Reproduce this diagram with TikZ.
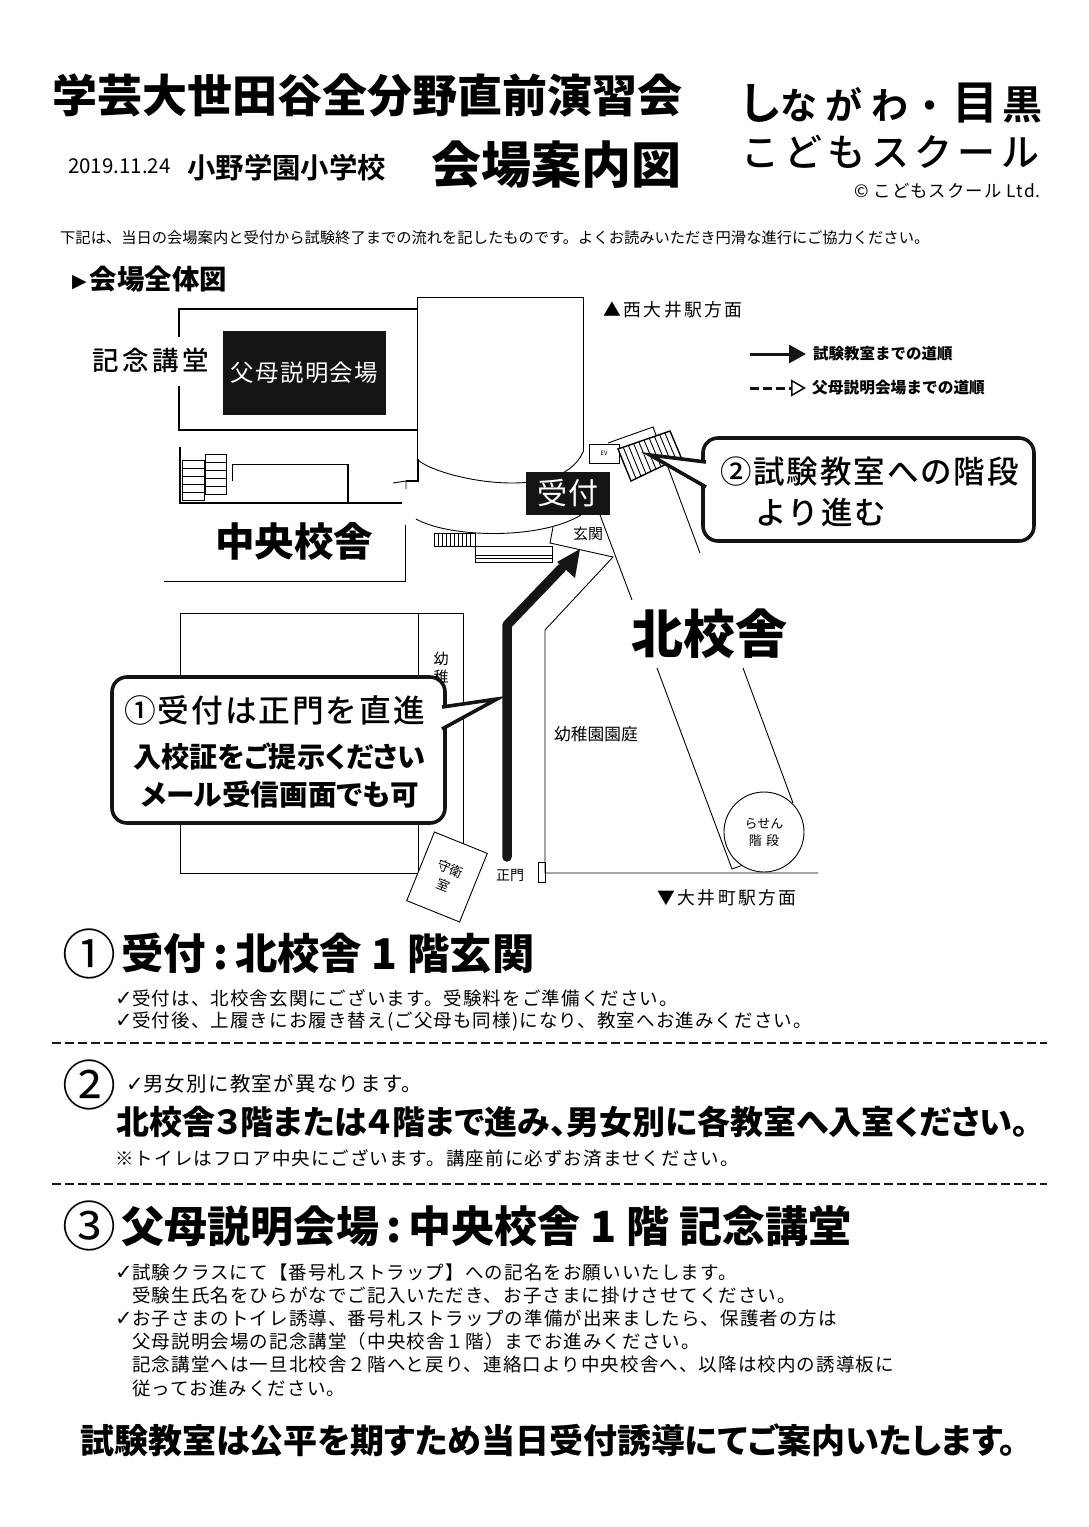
\documentclass[tikz,border=0pt]{standalone}
\usepackage{fontspec}
\usetikzlibrary{arrows.meta, calc}
\setmainfont{Noto Sans CJK JP}
\newfontfamily\jpreg{Noto Sans CJK JP}
\newfontfamily\jpbold{Noto Sans CJK JP Bold}
\newfontfamily\jpblack{Noto Sans CJK JP Black}
\newfontfamily\jptight[RawFeature={+palt}]{Noto Sans CJK JP Black}
\newfontfamily\jpwide[LetterSpace=6]{Noto Sans CJK JP}
\newfontfamily\jpwider[LetterSpace=14]{Noto Sans CJK JP}
\newfontfamily\jpmed[LetterSpace=6]{Noto Sans CJK JP Medium}
\newfontfamily\jpmedr[LetterSpace=14]{Noto Sans CJK JP Medium}
\newfontfamily\symfont{DejaVu Sans}
\newcommand{\fs}[1]{\fontsize{#1}{#1}\selectfont}
\newcommand{\chk}{\makebox[17pt][l]{\symfont\fs{21}✓}}
\newcommand{\ind}{\hspace*{17pt}}
\tikzstyle{txt}=[inner sep=0pt, anchor=west]
\tikzstyle{bodyline}=[txt, font=\jpwide\fs{18.5}]
\tikzstyle{heading}=[txt, font=\jpblack\fs{43}]
\tikzstyle{numeral}=[inner sep=0pt, font=\jpreg\fs{54}]
\tikzstyle{plain}=[black, line width=.9pt]
\tikzstyle{wall}=[black, line width=2.4pt]
\tikzstyle{darkbox}=[fill=black!92, text=white, inner sep=0pt]
\tikzstyle{callbox}=[draw=black!92, line width=3.6pt, rounded corners=15pt, fill=white, inner sep=0pt]
\tikzstyle{callptr}=[draw=black!92, line width=3.6pt, fill=white, line join=miter]
\tikzstyle{cut}=[black!90, line width=1.6pt, dash pattern=on 9pt off 4pt]
\begin{document}
\begin{tikzpicture}[x=1pt, y=-1pt, >=latex]
    \useasboundingbox (0,0) rectangle (1089,1527);
    % title block
    \node[txt, font=\jpblack\fs{45}] (title) at (52,95) {学芸大世田谷全分野直前演習会};
    \node[txt, font=\jpblack\fs{50}] (guide) at (431,165) {会場案内図};
    \node[txt, font=\jpreg\fs{20.5}] (date) at (68,166) {2019.11.24};
    \node[txt, font=\jpbold\fs{28.4}] (school) at (187,168) {小野学園小学校};
    \node[inner sep=0pt, anchor=base west, font=\jpbold\fs{37}] (logoa) at (738,119) {{\fs{44}し}\hspace{-2pt}な\hspace{8pt}が\hspace{9pt}わ\hspace{3.5pt}・\hspace{3.5pt}{\fs{46}目}\hspace{4pt}{\fs{40}黒}};
    \node[txt, font=\jpmedr\fs{38}] (logob) at (741,152) {こどもスクール};
    \node[inner sep=0pt, anchor=east, font=\jpwide\fs{17.4}] (copy) at (1041,191) {© こどもスクール\ Ltd.};
    \node[txt, font=\jpreg\fs{15.28}] (intro) at (60,238) {下記は、当日の会場案内と受付から試験終了までの流れを記したものです。よくお読みいただき円滑な進行にご協力ください。};
    \node[txt, font=\jpblack\fs{27.4}] (overview) at (72,279) {\raisebox{1.5pt}{\symfont\fs{19}▶}\hspace{3pt}会場全体図};

    % tower and hall
    \draw[plain] (417,459) -- (417,297) -- (583,297) -- (583,452);
    \draw[plain] (417,459) .. controls (435,478) and (560,505) .. (583,452);
    \draw[wall] (179,337) -- (179,309) -- (417,309);
    \draw[wall] (179,386) -- (179,430) -- (417,430);
    \node[darkbox, minimum width=163pt, minimum height=84pt, font=\jpwide\fs{23.4}] (parents) at (304.5,373) {父母説明会場};
    \node[txt, font=\jpmedr\fs{26.5}] (hall) at (92,360) {記念講堂};

    % central building
    \draw[black, line width=1.5pt] (180,447) -- (180,503) -- (402,503);
    \draw[plain] (232,481) -- (232,464) -- (348,464);
    \draw[black, line width=1.5pt] (348,464) -- (348,503);
    \draw[black, line width=1.5pt] (418,459) -- (418,481) -- (406,481);
    \draw[plain] (406,481) -- (393,483) (406,481) -- (406,489);
    \draw[plain] (182,460) rectangle (204,500);
    \foreach \y in {468,476,484,492} \draw[plain] (182,\y) -- (204,\y);
    \draw[plain] (205,454) rectangle (226,494);
    \foreach \y in {462,470,478,486} \draw[plain] (205,\y) -- (226,\y);
    \draw[plain] (416,519) .. controls (450,538) and (540,540) .. (581,515);
    \draw[plain] (405,525) -- (405,581) -- (164,581);
    \node[txt, font=\jpblack\fs{39.5}] (central) at (215,541) {中央校舎};
    \draw[plain] (434,533) rectangle (475,546);
    \foreach \x in {438,442,446,450,454,458,462,466,470} \draw[plain] (\x,533) -- (\x,546);
    \draw[plain] (475,546) rectangle (552,562);
    \draw[plain] (475,555) -- (552,555) (475,558) -- (552,558);

    % entrance and north building
    \draw[plain] (553,527) -- (550,543) -- (613,557) -- (545,630) -- (545,873) -- (818,873);
    \draw[plain] (600,515) -- (632,600);
    \draw[plain] (608,443) -- (653,427) -- (700,553);
    \draw[plain] (657,668) -- (732,869) -- (743,865);
    \draw[plain] (743,668) -- (793,803);
    \draw[plain] (538,862) rectangle (545,882);
    \node[draw=black, line width=.9pt, circle, minimum size=80pt, inner sep=0pt, fill=white, align=center, font=\jpreg\fs{13}] (spiral) at (764,832) {らせん\\[4pt]階\,\,段};
    \node[inner sep=0pt, font=\jpreg\fs{15}] (entry) at (588,534) {玄関};
    \node[darkbox, minimum width=84pt, minimum height=43pt, font=\jpwide\fs{30}] (reception) at (568,493.5) {受付};
    \node[draw=black, line width=.9pt, minimum width=30pt, minimum height=19pt, inner sep=0pt, font=\jpreg\fs{6}] (ev) at (604,453.5) {EV};
    \coordinate (sa) at (618,449);
    \coordinate (sb) at (670,431);
    \coordinate (sc) at (681,457);
    \coordinate (sd) at (631,481);
    \draw[black, line width=1.4pt, fill=white] (sa) -- (sb) -- (sc) -- (sd) -- cycle;
    \foreach \t in {.1,.2,.3,.4,.5,.6,.7,.8,.9} \draw[plain] ($(sa)!\t!(sb)$) -- ($(sd)!\t!(sc)$);
    \node[txt, font=\jpblack\fs{52}] (north) at (631,634) {北校舎};
    \node[txt, font=\jpreg\fs{16.7}] (garden) at (554,734) {幼稚園園庭};

    % lower left block
    \draw[plain] (180,613) rectangle (418,873);
    \draw[plain] (418,613) -- (463,613) -- (463,850);
    \node[inner sep=0pt, align=center, font=\jpreg\fs{15}] (kinder) at (441,668) {幼\\[3pt]稚};
    \node[draw=black, line width=.9pt, fill=white, minimum width=57pt, minimum height=74pt, inner sep=0pt, rotate=-22, align=center, font=\jpreg\fs{13}] (guard) at (447,877) {守衛\\[5pt]室};
    \node[txt, font=\jpreg\fs{14}] (gate) at (496,875) {正門};

    % main route
    \coordinate (routea) at (507,857);
    \coordinate (routeb) at (507,625);
    \coordinate (routec) at (580,549);
    \draw[line width=9.5pt, black!92, line cap=round, line join=round] (routea) -- (routeb) -- ($(routeb)!.75!(routec)$);
    \fill[black!92] (routec) -- (557,562) -- (575,578) -- cycle;

    % compass notes and legend
    \node[txt, font=\jpwider\fs{17.8}] (west) at (603,310) {▲西大井駅方面};
    \node[txt, font=\jpwider\fs{17.8}] (south) at (657,898) {▼大井町駅方面};
    \coordinate (lega) at (750,354);
    \coordinate (legb) at (806,354);
    \coordinate (legc) at (750,388);
    \coordinate (legd) at (806,388);
    \draw[-{Triangle[length=17pt,width=18pt]}, line width=3pt, black!92] (lega) -- (legb);
    \draw[-{Triangle[open,length=15pt,width=17pt,line width=1.6pt]}, line width=3pt, black!92, dash pattern=on 9pt off 4pt] (legc) -- (legd);
    \node[txt, font=\jpblack\fs{15.5}] (legtesta) at (813,354) {試験教室までの道順};
    \node[txt, font=\jpblack\fs{15.7}] (legtestb) at (812,388) {父母説明会場までの道順};

    % callouts
    \node[callbox, minimum width=331pt, minimum height=103pt] (callb) at (868.5,489.5) {};
    \draw[callptr] (706,462) -- (650,455) -- (706,487);
    \node[txt, font=\jpmed\fs{31.5}] (callbt) at (720,472) {②試験教室への階段};
    \node[txt, font=\jpmed\fs{31.5}] (callbu) at (755,512) {より進む};
    \node[callbox, minimum width=333pt, minimum height=146pt] (calla) at (278.5,750) {};
    \draw[callptr] (442,707) -- (497,699) -- (442,729);
    \node[txt, font=\jpmed\fs{31.7}] (callat) at (124,710) {①受付は正門を直進};
    \node[txt, font=\jptight\fs{28.1}] (callau) at (133,757) {入校証をご提示ください};
    \node[txt, font=\jptight\fs{28.6}] (callav) at (141,795) {メール受信画面でも可};

    % section 1
    \node[numeral] (numa) at (89,954) {①};
    \node[txt, font=\jpblack\fs{42.4}] (heada) at (121,953) {受付\,:\,北校舎 1 階玄関};
    \node[bodyline] (bodyaa) at (115,998) {\chk 受付は、北校舎玄関にございます。受験料をご準備ください。};
    \node[bodyline] (bodyab) at (115,1021) {\chk 受付後、上履きにお履き替え(ご父母も同様)になり、教室へお進みください。};
    \coordinate (cuta) at (52,1043);
    \coordinate (cutb) at (1047,1043);
    \draw[cut] (cuta) -- (cutb);

    % section 2
    \node[numeral] (numb) at (89,1085) {②};
    \node[txt, font=\jpwide\fs{20.5}] (bodyba) at (126,1084) {\chk 男女別に教室が異なります。};
    \node[txt, font=\jptight\fs{33}] (headb) at (116,1122) {北校舎３階または４階まで進み、男女別に各教室へ入室ください。};
    \node[bodyline] (bodybb) at (115,1158) {※トイレはフロア中央にございます。講座前に必ずお済ませください。};
    \coordinate (cutc) at (52,1184);
    \coordinate (cutd) at (1047,1184);
    \draw[cut] (cutc) -- (cutd);

    % section 3
    \node[numeral] (numc) at (89,1226) {③};
    \node[heading] (headc) at (121,1226) {父母説明会場\,:\,中央校舎 1 階 記念講堂};
    \node[bodyline] (bodyca) at (115,1272) {\chk 試験クラスにて【番号札ストラップ】への記名をお願いいたします。};
    \node[bodyline] (bodycb) at (115,1295) {\ind 受験生氏名をひらがなでご記入いただき、お子さまに掛けさせてください。};
    \node[bodyline] (bodycc) at (115,1318) {\chk お子さまのトイレ誘導、番号札ストラップの準備が出来ましたら、保護者の方は};
    \node[bodyline] (bodycd) at (115,1341) {\ind 父母説明会場の記念講堂（中央校舎１階）までお進みください。};
    \node[bodyline] (bodyce) at (115,1364) {\ind 記念講堂へは一旦北校舎２階へと戻り、連絡口より中央校舎へ、以降は校内の誘導板に};
    \node[bodyline] (bodycf) at (115,1388) {\ind 従ってお進みください。};
    \node[txt, font=\jptight\fs{34}] (closing) at (80,1440) {試験教室は公平を期すため当日受付誘導にてご案内いたします。};
\end{tikzpicture}
\end{document}
